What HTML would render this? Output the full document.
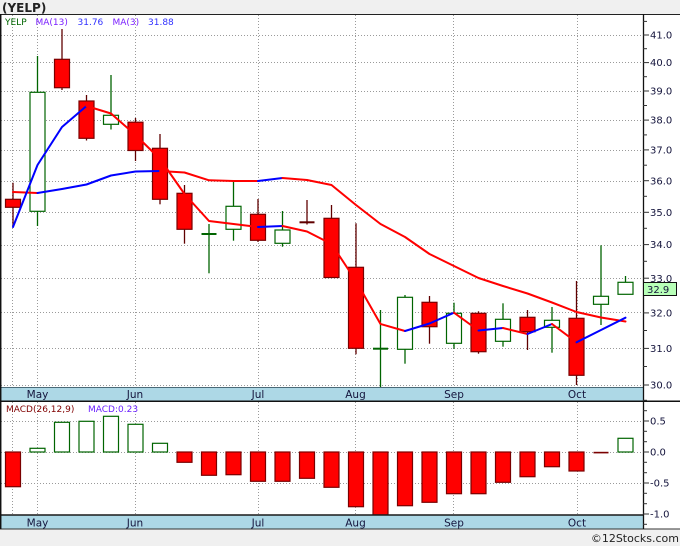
<!DOCTYPE html>
<html><head><meta charset="utf-8"><style>
html,body{margin:0;padding:0;background:#f0f0f0;}
svg{display:block;}
text{font-family:"DejaVu Sans","Liberation Sans",sans-serif;}
</style></head><body>
<svg width="680" height="546" viewBox="0 0 680 546" xmlns="http://www.w3.org/2000/svg">
<rect x="0" y="0" width="680" height="546" fill="#f0f0f0"/>
<rect x="0" y="14" width="680" height="515" fill="#ffffff"/>
<text x="2" y="12" font-size="12" font-weight="bold" fill="#222">(YELP)</text>

<!-- horizontal price grid -->
<g stroke="#9a9a9a" stroke-width="1" stroke-dasharray="1,2">
<line x1="1" x2="643" y1="35.5" y2="35.5"/>
<line x1="1" x2="643" y1="62.5" y2="62.5"/>
<line x1="1" x2="643" y1="91.5" y2="91.5"/>
<line x1="1" x2="643" y1="120.5" y2="120.5"/>
<line x1="1" x2="643" y1="150.5" y2="150.5"/>
<line x1="1" x2="643" y1="181.5" y2="181.5"/>
<line x1="1" x2="643" y1="212.5" y2="212.5"/>
<line x1="1" x2="643" y1="245.5" y2="245.5"/>
<line x1="1" x2="643" y1="278.5" y2="278.5"/>
<line x1="1" x2="643" y1="312.5" y2="312.5"/>
<line x1="1" x2="643" y1="348.5" y2="348.5"/>
<line x1="1" x2="643" y1="385.5" y2="385.5"/>
<!-- macd grid -->
<line x1="1" x2="643" y1="421.5" y2="421.5"/>
<line x1="1" x2="643" y1="452.5" y2="452.5"/>
<line x1="1" x2="643" y1="483.5" y2="483.5"/>
<!-- vertical grid -->
<line x1="12.5" x2="12.5" y1="15" y2="387"/>
<line x1="37.5" x2="37.5" y1="15" y2="387"/>
<line x1="135.5" x2="135.5" y1="15" y2="387"/>
<line x1="258.5" x2="258.5" y1="15" y2="387"/>
<line x1="355.5" x2="355.5" y1="15" y2="387"/>
<line x1="453.5" x2="453.5" y1="15" y2="387"/>
<line x1="577.5" x2="577.5" y1="15" y2="387"/>
<line x1="12.5" x2="12.5" y1="402" y2="515"/>
<line x1="37.5" x2="37.5" y1="402" y2="515"/>
<line x1="135.5" x2="135.5" y1="402" y2="515"/>
<line x1="258.5" x2="258.5" y1="402" y2="515"/>
<line x1="355.5" x2="355.5" y1="402" y2="515"/>
<line x1="453.5" x2="453.5" y1="402" y2="515"/>
<line x1="577.5" x2="577.5" y1="402" y2="515"/>
</g>

<!-- legend -->
<text y="25" font-size="9"><tspan x="5" fill="#006400">YELP</tspan><tspan x="35.5" fill="#7a1fff">MA(13)</tspan><tspan x="77.5" fill="#3030ff">31.76</tspan><tspan x="112.5" fill="#7a1fff">MA(3)</tspan><tspan x="148" fill="#3030ff">31.88</tspan></text>

<!-- candles wicks -->
<g stroke-width="1.3">
<line x1="13" x2="13" y1="182.7" y2="227.3" stroke="#600000"/>
<line x1="37.5" x2="37.5" y1="56" y2="226" stroke="#006400"/>
<line x1="62" x2="62" y1="29" y2="90" stroke="#600000"/>
<line x1="86.5" x2="86.5" y1="95" y2="140.5" stroke="#600000"/>
<line x1="111" x2="111" y1="75" y2="129.5" stroke="#006400"/>
<line x1="135.5" x2="135.5" y1="118" y2="161" stroke="#600000"/>
<line x1="160" x2="160" y1="134" y2="204.3" stroke="#600000"/>
<line x1="184.5" x2="184.5" y1="185" y2="243.7" stroke="#600000"/>
<line x1="209" x2="209" y1="224" y2="273.3" stroke="#006400"/>
<line x1="233.5" x2="233.5" y1="181.7" y2="240.7" stroke="#006400"/>
<line x1="258" x2="258" y1="199" y2="242" stroke="#600000"/>
<line x1="282.5" x2="282.5" y1="211" y2="246.7" stroke="#006400"/>
<line x1="307" x2="307" y1="200" y2="224.5" stroke="#600000"/>
<line x1="331.5" x2="331.5" y1="205" y2="278" stroke="#600000"/>
<line x1="356" x2="356" y1="223.3" y2="354.3" stroke="#600000"/>
<line x1="380.5" x2="380.5" y1="310" y2="387" stroke="#006400"/>
<line x1="405" x2="405" y1="295" y2="363.7" stroke="#006400"/>
<line x1="429.5" x2="429.5" y1="296" y2="343.7" stroke="#600000"/>
<line x1="454" x2="454" y1="302.7" y2="348.7" stroke="#006400"/>
<line x1="478.5" x2="478.5" y1="311.3" y2="353.7" stroke="#600000"/>
<line x1="503" x2="503" y1="303.3" y2="346.7" stroke="#006400"/>
<line x1="527.5" x2="527.5" y1="310" y2="350" stroke="#600000"/>
<line x1="552" x2="552" y1="307" y2="352.7" stroke="#006400"/>
<line x1="576.5" x2="576.5" y1="281" y2="385" stroke="#600000"/>
<line x1="601" x2="601" y1="245.3" y2="325" stroke="#006400"/>
<line x1="625.5" x2="625.5" y1="276" y2="294" stroke="#006400"/>
</g>
<!-- candle bodies -->
<g stroke-width="1.2">
<rect x="5.5" y="199.3" width="15" height="8" fill="#ff0000" stroke="#7a0000"/>
<rect x="30" y="92.3" width="15" height="119" fill="#ffffff" stroke="#006400"/>
<rect x="54.5" y="59.3" width="15" height="28.4" fill="#ff0000" stroke="#7a0000"/>
<rect x="79" y="101" width="15" height="37.3" fill="#ff0000" stroke="#7a0000"/>
<rect x="103.5" y="115.3" width="15" height="9" fill="#ffffff" stroke="#006400"/>
<rect x="128" y="122.2" width="15" height="28.3" fill="#ff0000" stroke="#7a0000"/>
<rect x="152.5" y="148.3" width="15" height="51" fill="#ff0000" stroke="#7a0000"/>
<rect x="177" y="193.3" width="15" height="36" fill="#ff0000" stroke="#7a0000"/>
<rect x="201.5" y="233" width="15" height="2" fill="#006400" stroke="none"/>
<rect x="226" y="206.3" width="15" height="23" fill="#ffffff" stroke="#006400"/>
<rect x="250.5" y="214.3" width="15" height="26" fill="#ff0000" stroke="#7a0000"/>
<rect x="275" y="230" width="15" height="13.3" fill="#ffffff" stroke="#006400"/>
<rect x="299.5" y="221.3" width="15" height="2" fill="#600000" stroke="none"/>
<rect x="324" y="218.3" width="15" height="59.2" fill="#ff0000" stroke="#7a0000"/>
<rect x="348.5" y="267.3" width="15" height="81" fill="#ff0000" stroke="#7a0000"/>
<rect x="373" y="347.7" width="15" height="2" fill="#006400" stroke="none"/>
<rect x="397.5" y="297.3" width="15" height="52" fill="#ffffff" stroke="#006400"/>
<rect x="422" y="302.3" width="15" height="24.4" fill="#ff0000" stroke="#7a0000"/>
<rect x="446.5" y="313.3" width="15" height="30" fill="#ffffff" stroke="#006400"/>
<rect x="471" y="313.3" width="15" height="38.4" fill="#ff0000" stroke="#7a0000"/>
<rect x="495.5" y="319.3" width="15" height="22" fill="#ffffff" stroke="#006400"/>
<rect x="520" y="317.3" width="15" height="14.4" fill="#ff0000" stroke="#7a0000"/>
<rect x="544.5" y="320.3" width="15" height="7" fill="#ffffff" stroke="#006400"/>
<rect x="569" y="318.3" width="15" height="57" fill="#ff0000" stroke="#7a0000"/>
<rect x="593.5" y="296.3" width="15" height="8" fill="#ffffff" stroke="#006400"/>
<rect x="618" y="282.3" width="15" height="12" fill="#ffffff" stroke="#006400"/>
</g>

<!-- MA lines -->
<g fill="none" stroke-width="2" stroke-linejoin="round" stroke-linecap="round">
<!-- MA13 -->
<polyline stroke="#ff0000" points="13,192 37.5,193"/>
<polyline stroke="#0000ff" points="37.5,193 62,189 86.5,184.5 111,175.5 135.5,171.5 160,171"/>
<polyline stroke="#ff0000" points="160,171 184.5,172.5 209,180.3 233.5,181 258,181"/>
<polyline stroke="#0000ff" points="258,181 282.5,178"/>
<polyline stroke="#ff0000" points="282.5,178 307,180 331.5,185 356,205 380.5,224 405,237 429.5,254 454,266 478.5,278 503,286 527.5,293.5 552,302.5 576.5,312 601,317.5 625.5,321.5"/>
<!-- MA3 -->
<polyline stroke="#0000ff" points="13,227 37.5,165 62,127 86.5,106"/>
<polyline stroke="#ff0000" points="86.5,106 111,113.5 135.5,135 160,159 184.5,194 209,221 233.5,224 258,227"/>
<polyline stroke="#0000ff" points="258,227 282.5,226"/>
<polyline stroke="#ff0000" points="282.5,226 307,231.5 331.5,244 356,281 380.5,324 405,331"/>
<polyline stroke="#0000ff" points="405,331 429.5,323.5 454,312.7"/>
<polyline stroke="#ff0000" points="454,312.7 478.5,330.5"/>
<polyline stroke="#0000ff" points="478.5,330.5 503,328"/>
<polyline stroke="#ff0000" points="503,328 527.5,334"/>
<polyline stroke="#0000ff" points="527.5,334 552,324"/>
<polyline stroke="#ff0000" points="552,324 576.5,342.3"/>
<polyline stroke="#0000ff" points="576.5,342.3 601,330 625.5,317.7"/>
</g>

<!-- MACD legend -->
<text y="412" font-size="9"><tspan x="6" fill="#800000">MACD(26,12,9)</tspan><tspan x="88" fill="#6a1fff">MACD:0.23</tspan></text>

<!-- MACD bars -->
<g stroke-width="1.2">
<rect x="5.5" y="452" width="15" height="34.7" fill="#ff0000" stroke="#7a0000"/>
<rect x="30" y="448.3" width="15" height="3.7" fill="#fff" stroke="#006400"/>
<rect x="54.5" y="422.3" width="15" height="29.7" fill="#fff" stroke="#006400"/>
<rect x="79" y="421.3" width="15" height="30.7" fill="#fff" stroke="#006400"/>
<rect x="103.5" y="416.3" width="15" height="35.7" fill="#fff" stroke="#006400"/>
<rect x="128" y="424.3" width="15" height="27.7" fill="#fff" stroke="#006400"/>
<rect x="152.5" y="443.3" width="15" height="8.7" fill="#fff" stroke="#006400"/>
<rect x="177" y="452" width="15" height="10.3" fill="#ff0000" stroke="#7a0000"/>
<rect x="201.5" y="452" width="15" height="23.3" fill="#ff0000" stroke="#7a0000"/>
<rect x="226" y="452" width="15" height="22.7" fill="#ff0000" stroke="#7a0000"/>
<rect x="250.5" y="452" width="15" height="29.3" fill="#ff0000" stroke="#7a0000"/>
<rect x="275" y="452" width="15" height="29.3" fill="#ff0000" stroke="#7a0000"/>
<rect x="299.5" y="452" width="15" height="26.3" fill="#ff0000" stroke="#7a0000"/>
<rect x="324" y="452" width="15" height="35.3" fill="#ff0000" stroke="#7a0000"/>
<rect x="348.5" y="452" width="15" height="54.7" fill="#ff0000" stroke="#7a0000"/>
<rect x="373" y="452" width="15" height="63" fill="#ff0000" stroke="#7a0000"/>
<rect x="397.5" y="452" width="15" height="53.7" fill="#ff0000" stroke="#7a0000"/>
<rect x="422" y="452" width="15" height="50.3" fill="#ff0000" stroke="#7a0000"/>
<rect x="446.5" y="452" width="15" height="41.7" fill="#ff0000" stroke="#7a0000"/>
<rect x="471" y="452" width="15" height="41.7" fill="#ff0000" stroke="#7a0000"/>
<rect x="495.5" y="452" width="15" height="30.3" fill="#ff0000" stroke="#7a0000"/>
<rect x="520" y="452" width="15" height="24.7" fill="#ff0000" stroke="#7a0000"/>
<rect x="544.5" y="452" width="15" height="14.7" fill="#ff0000" stroke="#7a0000"/>
<rect x="569" y="452" width="15" height="19" fill="#ff0000" stroke="#7a0000"/>
<rect x="593.5" y="451.8" width="15" height="1.6" fill="#7a0000" stroke="none"/>
<rect x="618" y="438.3" width="15" height="13.7" fill="#fff" stroke="#006400"/>
</g>

<!-- bands -->
<rect x="1" y="387" width="642" height="14" fill="#add8e6"/>
<line x1="1" x2="643" y1="387.5" y2="387.5" stroke="#4a6a78" stroke-width="1"/>
<rect x="1" y="515" width="642" height="14" fill="#add8e6"/>
<line x1="1" x2="643" y1="515" y2="515" stroke="#1a1a1a" stroke-width="1.5"/>
<line x1="0" x2="680" y1="529" y2="529" stroke="#333" stroke-width="1"/>
<g font-size="10.5" fill="#14143c" text-anchor="middle">
<text x="37.5" y="398">May</text><text x="135" y="398">Jun</text><text x="258" y="398">Jul</text>
<text x="355.5" y="398">Aug</text><text x="454" y="398">Sep</text><text x="577" y="398">Oct</text>
<text x="37.5" y="526.5">May</text><text x="135" y="526.5">Jun</text><text x="258" y="526.5">Jul</text>
<text x="355.5" y="526.5">Aug</text><text x="454" y="526.5">Sep</text><text x="577" y="526.5">Oct</text>
</g>

<!-- frame lines -->
<line x1="0" x2="680" y1="14.5" y2="14.5" stroke="#222" stroke-width="1"/>
<line x1="0" x2="680" y1="401.3" y2="401.3" stroke="#111" stroke-width="1.5"/>
<line x1="0.7" x2="0.7" y1="14" y2="529" stroke="#111" stroke-width="1.5"/>
<line x1="643.5" x2="643.5" y1="14" y2="529" stroke="#111" stroke-width="1.3"/>

<!-- right axis ticks -->
<g stroke="#333" stroke-width="1">
<line x1="643" x2="649" y1="35" y2="35"/><line x1="643" x2="649" y1="62.6" y2="62.6"/>
<line x1="643" x2="649" y1="91" y2="91"/><line x1="643" x2="649" y1="120.1" y2="120.1"/>
<line x1="643" x2="649" y1="149.9" y2="149.9"/><line x1="643" x2="649" y1="180.7" y2="180.7"/>
<line x1="643" x2="649" y1="212.3" y2="212.3"/><line x1="643" x2="649" y1="244.6" y2="244.6"/>
<line x1="643" x2="649" y1="278.2" y2="278.2"/><line x1="643" x2="649" y1="312.9" y2="312.9"/>
<line x1="643" x2="649" y1="348.4" y2="348.4"/><line x1="643" x2="649" y1="385" y2="385"/>
<line x1="643" x2="647" y1="21.4" y2="21.4"/><line x1="643" x2="647" y1="48.7" y2="48.7"/>
<line x1="643" x2="647" y1="76.7" y2="76.7"/><line x1="643" x2="647" y1="105.5" y2="105.5"/>
<line x1="643" x2="647" y1="134.9" y2="134.9"/><line x1="643" x2="647" y1="165.2" y2="165.2"/>
<line x1="643" x2="647" y1="196.3" y2="196.3"/><line x1="643" x2="647" y1="228.3" y2="228.3"/>
<line x1="643" x2="647" y1="261.3" y2="261.3"/><line x1="643" x2="647" y1="295.5" y2="295.5"/>
<line x1="643" x2="647" y1="330.5" y2="330.5"/><line x1="643" x2="647" y1="366.5" y2="366.5"/>
<!-- macd -->
<line x1="643" x2="649" y1="421" y2="421"/><line x1="643" x2="649" y1="452" y2="452"/>
<line x1="643" x2="649" y1="483" y2="483"/><line x1="643" x2="649" y1="514" y2="514"/>
<line x1="643" x2="647" y1="400.3" y2="400.3"/><line x1="643" x2="647" y1="410.7" y2="410.7"/>
<line x1="643" x2="647" y1="431.3" y2="431.3"/><line x1="643" x2="647" y1="441.7" y2="441.7"/>
<line x1="643" x2="647" y1="462.3" y2="462.3"/><line x1="643" x2="647" y1="472.7" y2="472.7"/>
<line x1="643" x2="647" y1="493.3" y2="493.3"/><line x1="643" x2="647" y1="503.7" y2="503.7"/>
<line x1="643" x2="647" y1="524.3" y2="524.3"/>
</g>
<g font-size="10" fill="#14143c">
<text x="650" y="38.6">41.0</text><text x="650" y="66.2">40.0</text>
<text x="650" y="94.6">39.0</text><text x="650" y="123.7">38.0</text>
<text x="650" y="153.5">37.0</text><text x="650" y="184.3">36.0</text>
<text x="650" y="215.9">35.0</text><text x="650" y="248.2">34.0</text>
<text x="650" y="281.8">33.0</text><text x="650" y="316.5">32.0</text>
<text x="650" y="352">31.0</text><text x="650" y="388.6">30.0</text>
<text x="650" y="424.6">0.5</text><text x="650" y="455.6">0.0</text>
<text x="650" y="486.6">-0.5</text><text x="650" y="517.6">-1.0</text>
</g>
<rect x="643.5" y="282.5" width="33" height="13" fill="#b8ffb8" stroke="#111" stroke-width="1"/>
<text x="647" y="293" font-size="10" fill="#14143c">32.9</text>

<text x="679" y="542" font-size="11" fill="#222" text-anchor="end">©12Stocks.com</text>
</svg>
</body></html>
